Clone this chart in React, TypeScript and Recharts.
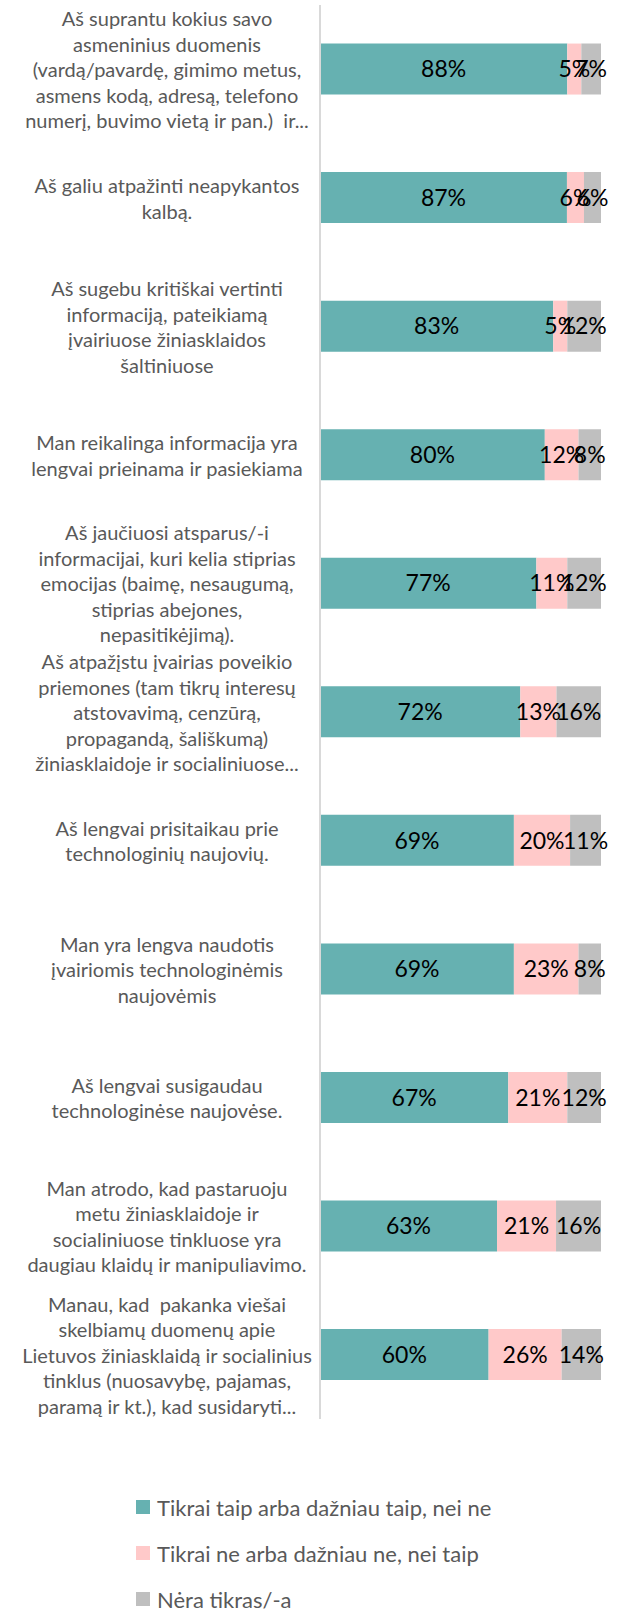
import { BarChart, Bar, XAxis, YAxis, LabelList, Legend } from 'recharts'

const categories = [
  'Aš suprantu kokius savo\nasmeninius duomenis\n(vardą/pavardę, gimimo metus,\nasmens kodą, adresą, telefono\nnumerį, buvimo vietą ir pan.)  ir...',
  'Aš galiu atpažinti neapykantos\nkalbą.',
  'Aš sugebu kritiškai vertinti\ninformaciją, pateikiamą\nįvairiuose žiniasklaidos\nšaltiniuose',
  'Man reikalinga informacija yra\nlengvai prieinama ir pasiekiama',
  'Aš jaučiuosi atsparus/-i\ninformacijai, kuri kelia stiprias\nemocijas (baimę, nesaugumą,\nstiprias abejones,\nnepasitikėjimą).',
  'Aš atpažįstu įvairias poveikio\npriemones (tam tikrų interesų\natstovavimą, cenzūrą,\npropagandą, šališkumą)\nžiniasklaidoje ir socialiniuose...',
  'Aš lengvai prisitaikau prie\ntechnologinių naujovių.',
  'Man yra lengva naudotis\nįvairiomis technologinėmis\nnaujovėmis',
  'Aš lengvai susigaudau\ntechnologinėse naujovėse.',
  'Man atrodo, kad pastaruoju\nmetu žiniasklaidoje ir\nsocialiniuose tinkluose yra\ndaugiau klaidų ir manipuliavimo.',
  'Manau, kad  pakanka viešai\nskelbiamų duomenų apie\nLietuvos žiniasklaidą ir socialinius\ntinklus (nuosavybę, pajamas,\nparamą ir kt.), kad susidaryti...',
]

const yesValues = [88, 87, 83, 80, 77, 72, 69, 69, 67, 63, 60]
const noValues = [5, 6, 5, 12, 11, 13, 20, 23, 21, 21, 26]
const unsureValues = [7, 6, 12, 8, 12, 16, 11, 8, 12, 16, 14]

const seriesKeys = ['yes', 'no', 'unsure'] as const
const seriesNames = [
  'Tikrai taip arba dažniau taip, nei ne',
  'Tikrai ne arba dažniau ne, nei taip',
  'Nėra tikras/-a',
]

const COLORS = ['#66b1b1', '#ffc9c9', '#bfbfbf']
const FONT = 'Lato, "Open Sans", sans-serif'

const data = categories.map((name, i) => ({
  name,
  yes: yesValues[i],
  no: noValues[i],
  unsure: unsureValues[i],
}))

// multi-line category label, centred on the band
// eslint-disable-next-line @typescript-eslint/no-explicit-any
function CategoryTick({ y, payload }: any) {
  const lines = String(payload.value).split('\n')
  const lh = 25.5
  const startY = y - ((lines.length - 1) * lh) / 2
  return (
    <text x={167} y={startY} textAnchor="middle" fill="#595959" fontSize={20} fontFamily={FONT} dominantBaseline="central">
      {lines.map((l, i) => (
        <tspan key={i} x={167} y={startY + i * lh} style={{ whiteSpace: 'pre' }}>
          {l}
        </tspan>
      ))}
    </text>
  )
}

// legend in the series order, one item per row
// eslint-disable-next-line @typescript-eslint/no-explicit-any
function LegendList({ payload }: any) {
  const items = [...(payload ?? [])].sort(
    (a: any, b: any) => seriesNames.indexOf(a.value) - seriesNames.indexOf(b.value),
  )
  return (
    <div style={{ fontFamily: FONT }}>
      {items.map((p: any, i: number) => (
        <div key={i} style={{ display: 'flex', alignItems: 'center', height: 46 }}>
          <span style={{ width: 14, height: 14, background: p.color, display: 'inline-block', marginRight: 7 }} />
          <span style={{ fontSize: 22, color: '#595959' }}>{p.value}</span>
        </div>
      ))}
    </div>
  )
}

export default function App() {
  return (
    <div style={{ position: 'absolute', left: 0, top: 0 }}>
      <BarChart
        width={624}
        height={1611}
        data={data}
        layout="vertical"
        stackOffset="expand"
        barCategoryGap="30%"
        margin={{ top: 5, right: 23, bottom: 192, left: 0 }}
      >
        <XAxis type="number" hide domain={[0, 1]} />
        <YAxis
          type="category"
          dataKey="name"
          width={320}
          interval={0}
          tickLine={false}
          axisLine={{ stroke: '#d9d9d9', strokeWidth: 2 }}
          tick={<CategoryTick />}
        />
        <Legend
          layout="vertical"
          align="center"
          verticalAlign="middle"
          wrapperStyle={{ left: 136, top: 1484, width: 'auto', height: 'auto' }}
          content={<LegendList />}
        />
        {seriesKeys.map((key, i) => (
          <Bar key={key} dataKey={key} name={seriesNames[i]} stackId="a" fill={COLORS[i]} isAnimationActive={false}>
            <LabelList
              dataKey={key}
              position="center"
              formatter={(v: any) => `${v}%`}
              fill="#000"
              fontSize={23}
              fontFamily={FONT}
            />
          </Bar>
        ))}
      </BarChart>
    </div>
  )
}
